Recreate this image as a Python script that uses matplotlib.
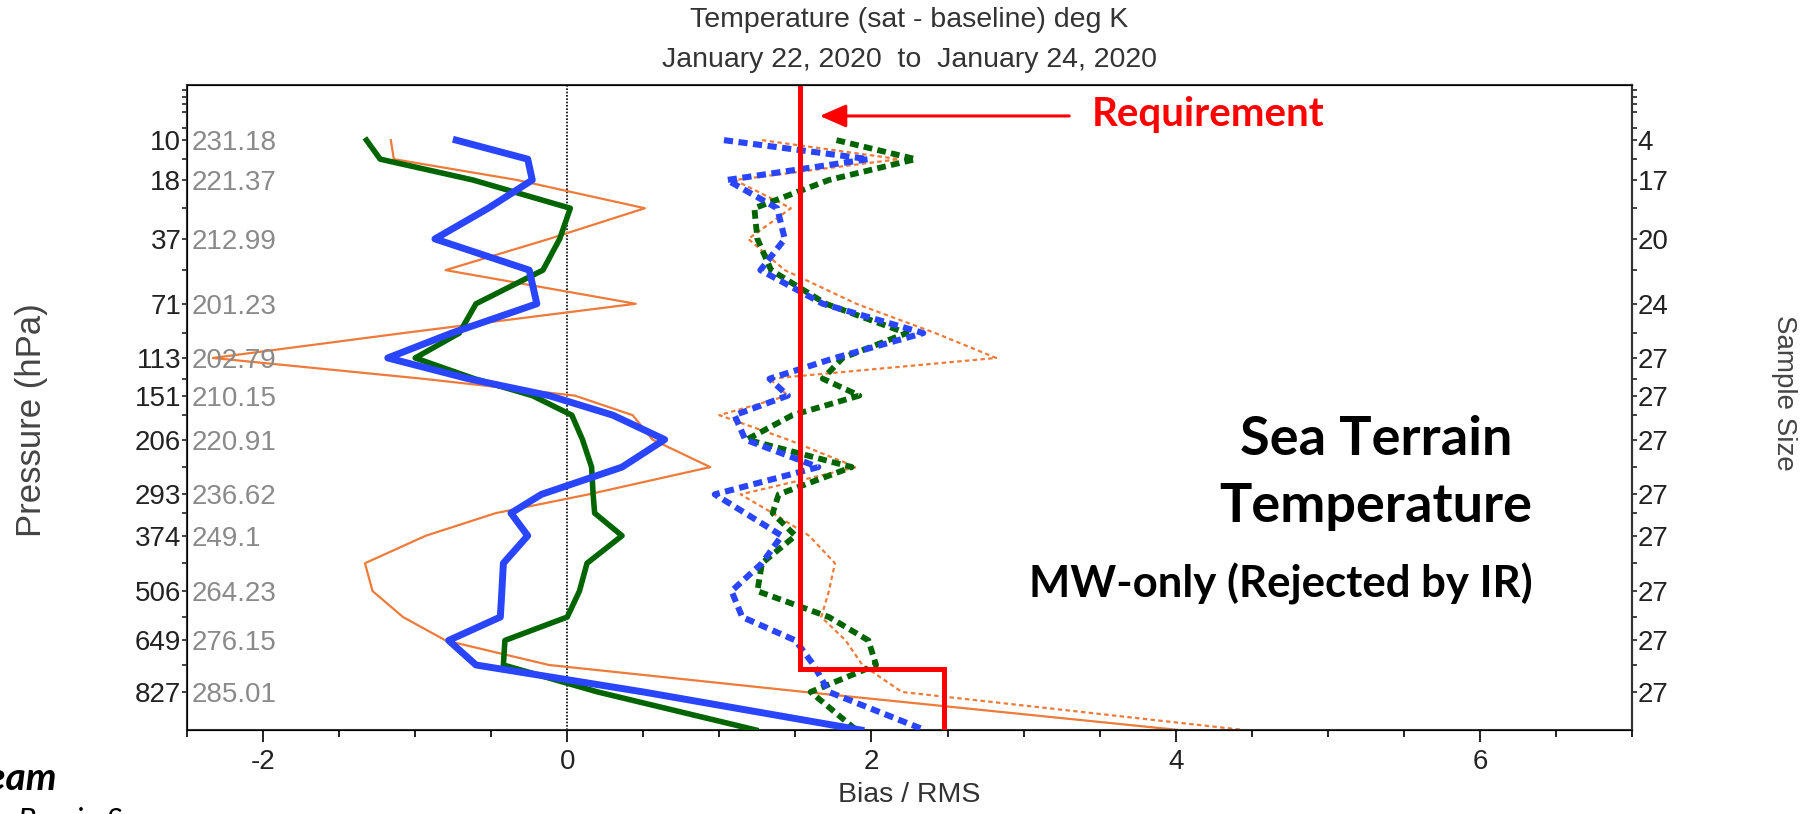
import matplotlib
matplotlib.use("Agg")
import matplotlib.pyplot as plt
import numpy as np
from matplotlib.transforms import blended_transform_factory

# -----------------------------
# Data
# -----------------------------
# pressure levels (hPa) of the profile vertices; the last one is the lower plot edge
levels = [10, 13.4, 18, 25.9, 37, 51.4, 71, 92, 113, 133, 151, 174, 206, 247,
          293, 328, 374, 436, 506, 578, 649, 730, 827, 979]

# bias profiles (solid)
bias_blue = [-0.73, -0.26, -0.23, -0.52, -0.87, -0.25, -0.20, -0.76, -1.18, -0.65,
             -0.12, 0.30, 0.64, 0.36, -0.17, -0.37, -0.26, -0.42, -0.43, -0.44,
             -0.78, -0.60, 0.50, 1.93]
bias_green = [-1.32, -1.23, -0.62, 0.02, -0.05, -0.16, -0.60, -0.71, -1.00, -0.61,
              -0.23, 0.03, 0.10, 0.16, 0.17, 0.18, 0.36, 0.13, 0.08, 0.00,
              -0.41, -0.42, 0.20, 1.24]
bias_orange = [-1.16, -1.14, -0.33, 0.51, -0.12, -0.80, 0.45, -1.08, -2.33, -0.95,
               0.05, 0.43, 0.56, 0.94, 0.14, -0.47, -0.93, -1.33, -1.28, -1.08,
               -0.80, -0.12, 1.56, 4.02]

# RMS profiles (dashed / dotted)
rms_blue = [1.03, 1.98, 1.05, 1.38, 1.43, 1.27, 1.68, 2.34, 1.76, 1.33,
            1.45, 1.10, 1.17, 1.65, 0.97, 1.17, 1.41, 1.28, 1.08, 1.15,
            1.50, 1.62, 1.72, 2.35]
rms_green = [1.77, 2.29, 1.72, 1.23, 1.25, 1.34, 1.70, 2.23, 1.81, 1.68,
             1.92, 1.48, 1.18, 1.87, 1.39, 1.35, 1.50, 1.28, 1.25, 1.72,
             1.98, 2.03, 1.60, 1.90]
rms_orange = [1.28, 2.18, 1.10, 1.47, 1.19, 1.43, 1.90, 2.42, 2.82, 1.33,
              1.45, 1.00, 1.45, 1.90, 1.14, 1.35, 1.59, 1.76, 1.72, 1.67,
              1.83, 1.94, 2.20, 4.45]

# labelled levels, layer mean temperature and sample size
label_levels = [10, 18, 37, 71, 113, 151, 206, 293, 374, 506, 649, 827]
mean_temp = ["231.18", "221.37", "212.99", "201.23", "202.79", "210.15",
             "220.91", "236.62", "249.1", "264.23", "276.15", "285.01"]
sample_size = [4, 17, 20, 24, 27, 27, 27, 27, 27, 27, 27, 27]
top_minor = [4.0, 4.6, 5.3, 6.2, 8.2]

# requirement step (K) and the pressure where it changes
req_upper = 1.53
req_lower = 2.48
req_split = 745

P_TOP, P_BOT = 3.6, 979
KAPPA = 0.286

BLUE = "#2A45FF"
GREEN = "#006400"
ORANGE = "#EE7B3A"
RED = "#FF0000"


def fwd(p):
    return np.power(np.clip(p, 1e-6, None), KAPPA)


def inv(t):
    return np.power(np.clip(t, 1e-6, None), 1.0 / KAPPA)


def setup_pressure_axis(a):
    a.set_yscale("function", functions=(fwd, inv))
    a.set_ylim(P_BOT, P_TOP)
    minor = top_minor + [p for p in levels[:-1] if p not in label_levels]
    a.set_yticks(minor, minor=True)


def main() -> None:
    plt.rcParams["font.family"] = ["Liberation Sans", "DejaVu Sans"]
    plt.rcParams["font.size"] = 20
    plt.rcParams["axes.unicode_minus"] = False

    fig = plt.figure(figsize=(18.07, 8.14), dpi=100)
    ax = fig.add_axes([187 / 1807, 1 - 730 / 814, 1445 / 1807, 645 / 814])

    ax.set_xlim(-2.5, 7)
    setup_pressure_axis(ax)
    ax.set_yticks(label_levels, labels=[str(p) for p in label_levels])

    ax.axvline(0, color="black", lw=1.2, ls=(0, (1, 1)), zorder=1)

    lv = np.asarray(levels, dtype=float)
    ax.plot(bias_orange, lv, color=ORANGE, lw=1.6, zorder=2)
    ax.plot(bias_green, lv, color=GREEN, lw=4.0, zorder=3)
    ax.plot(bias_blue, lv, color=BLUE, lw=5.0, zorder=4)
    ax.plot(rms_orange, lv, color=ORANGE, lw=1.6, ls=(0, (2, 1.5)), zorder=2)
    ax.plot(rms_green, lv, color=GREEN, lw=4.2, ls=(0, (1.5, 0.9)), zorder=3)
    ax.plot(rms_blue, lv, color=BLUE, lw=4.4, ls=(0, (1.5, 0.9)), zorder=4)

    ax.plot([req_upper, req_upper, req_lower, req_lower],
            [P_TOP, req_split, req_split, P_BOT],
            color=RED, lw=3.6, zorder=6, solid_joinstyle="miter")

    # x ticks
    ax.set_xticks([-2, 0, 2, 4, 6])
    ax.set_xticks(np.arange(-2.5, 7.01, 0.5), minor=True)
    ax.tick_params(axis="x", which="major", length=8.5, width=1.4, pad=5,
                   colors="#222222", labelsize=20)
    ax.tick_params(axis="x", which="minor", length=4.8, width=1.4, colors="#222222")
    ax.tick_params(axis="y", which="both", length=3.6, width=1.2, pad=0.5,
                   colors="#222222", labelsize=20)

    for s in ax.spines.values():
        s.set_color("#333333")
        s.set_linewidth(1.5)

    # grey mean temperature labels inside the axes
    trans = blended_transform_factory(ax.transAxes, ax.transData)
    for p, t in zip(label_levels, mean_temp):
        ax.text(0.003, p, t, transform=trans, ha="left", va="center_baseline",
                color="#8a8a8a", fontsize=20)

    # right axis with sample size
    ax2 = ax.twinx()
    setup_pressure_axis(ax2)
    ax2.set_yticks(label_levels, labels=[str(s) for s in sample_size])
    ax2.tick_params(axis="y", which="both", length=3.6, width=1.2, pad=0.5,
                    colors="#222222", labelsize=20)
    ax2.spines["right"].set_color("#333333")
    ax2.spines["right"].set_linewidth(1.5)

    # annotations
    ax.annotate("", xy=(1.66, 0.952), xytext=(3.30, 0.952),
                xycoords=ax.get_xaxis_transform(),
                arrowprops=dict(arrowstyle="-|>,head_length=0.8,head_width=0.35",
                                color=RED, lw=2.2, shrinkA=0, shrinkB=0))
    ax.text(0.626, 0.936, "Requirement", transform=ax.transAxes, ha="left",
            va="baseline", color=RED, fontsize=29, fontweight="bold",
            family="Lato")
    ax.text(0.823, 0.426, "Sea Terrain", transform=ax.transAxes, ha="center",
            va="baseline", fontsize=39, fontweight="bold", family="Lato")
    ax.text(0.823, 0.322, "Temperature", transform=ax.transAxes, ha="center",
            va="baseline", fontsize=39, fontweight="bold", family="Lato")
    ax.text(0.757, 0.205, "MW-only (Rejected by IR)", transform=ax.transAxes,
            ha="center", va="baseline", fontsize=31.5, fontweight="bold",
            family="Lato")

    # titles and axis labels
    fig.text(909.5 / 1807, 1 - 20 / 814, "Temperature (sat - baseline) deg K",
             ha="center", va="center", color="#333333", fontsize=20.5)
    fig.text(909.5 / 1807, 1 - 60 / 814, "January 22, 2020  to  January 24, 2020",
             ha="center", va="center", color="#333333", fontsize=20.5)
    fig.text(909.5 / 1807, 1 - 795 / 814, "Bias / RMS", ha="center", va="center",
             color="#333333", fontsize=20.5)
    fig.text(31 / 1807, 1 - 420 / 814, "Pressure (hPa)", ha="center", va="center",
             rotation=90, color="#444444", fontsize=25)
    fig.text(1784 / 1807, 1 - 393 / 814, "Sample Size", ha="center", va="center",
             rotation=270, color="#444444", fontsize=20)

    # slide text cut at the lower left corner
    fig.text(58 / 1807, 1 - 779 / 814, "Team", ha="right", va="center",
             fontsize=28, fontweight="bold", style="italic", family="Lato")
    fig.text(18 / 1807, 1 - 807 / 814, "Bomin Sun", ha="left", va="top",
             fontsize=22, style="italic", family="Lato")

    fig.savefig("out.png", dpi=100)
    plt.close(fig)


if __name__ == "__main__":
    main()
